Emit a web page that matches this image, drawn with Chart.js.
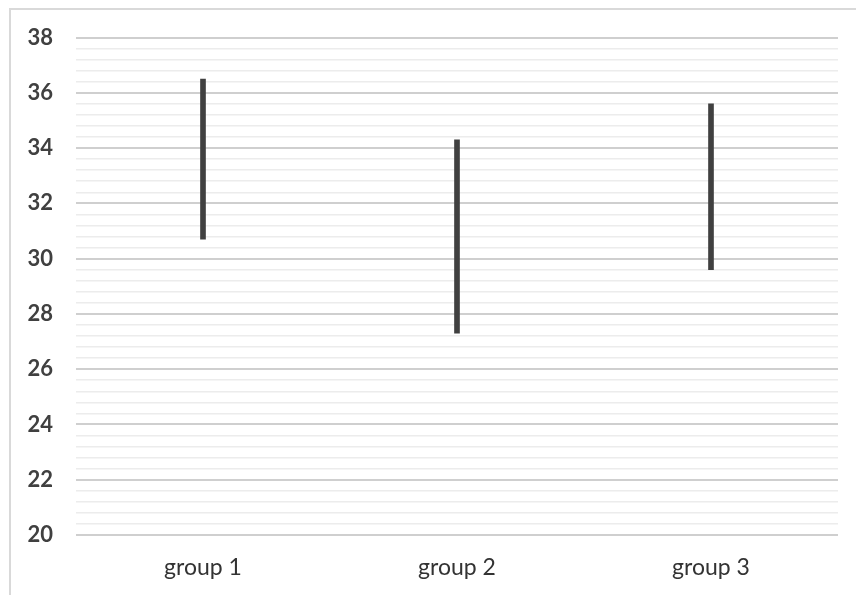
<!DOCTYPE html>
<html>
<head>
<meta charset="utf-8">
<script src="https://cdn.jsdelivr.net/npm/chart.js@4/dist/chart.umd.min.js"></script>
<style>
  body { margin: 0; background: #fff; }
  #wrap { position: relative; width: 856px; height: 595px; }
  #frame { position: absolute; left: 9px; top: 8px; width: 860px; height: 600px; border: 2px solid #d9d9d9; box-sizing: border-box; }
  canvas { position: absolute; left: 0; top: 0; }
</style>
</head>
<body>
<div id="wrap">
  <div id="frame"></div>
  <canvas id="chart" width="856" height="595"></canvas>
</div>
<script>
// groups and their low / high values
const groups = ["group 1", "group 2", "group 3"];
const lows = [30.7, 27.3, 29.6];
const highs = [36.5, 34.3, 35.6];
const yMin = 20, yMax = 38, minorStep = 0.4;

const isMajor = v => Math.abs(v / 2 - Math.round(v / 2)) < 1e-6;

const ctx = document.getElementById('chart').getContext('2d');
new Chart(ctx, {
    type: 'bar',
    data: {
        labels: groups,
        datasets: [{
            data: groups.map((g, i) => [lows[i], highs[i]]),
            backgroundColor: '#404040',
            borderWidth: 0,
            barThickness: 5
        }]
    },
    options: {
        responsive: false,
        animation: false,
        layout: { padding: { top: 37.5, right: 18, left: 0, bottom: 0 } },
        plugins: { legend: { display: false }, tooltip: { enabled: false } },
        scales: {
            x: {
                afterFit: s => { s.height = 60; },
                grid: { display: false },
                border: { display: false },
                ticks: {
                    color: '#333',
                    font: { family: 'Lato', size: 23 },
                    padding: 11
                }
            },
            y: {
                min: yMin,
                max: yMax,
                afterFit: s => { s.width = 76; },
                border: { display: false },
                grid: {
                    drawTicks: false,
                    color: c => isMajor(c.tick.value) ? '#cfcfcf' : '#ececec',
                    lineWidth: c => isMajor(c.tick.value) ? 2 : 1.5
                },
                ticks: {
                    stepSize: minorStep,
                    autoSkip: false,
                    padding: 23,
                    color: '#404040',
                    font: { family: 'Lato', size: 22, weight: 'bold' },
                    callback: v => isMajor(v) ? Math.round(v) : ''
                }
            }
        }
    }
});
</script>
</body>
</html>
